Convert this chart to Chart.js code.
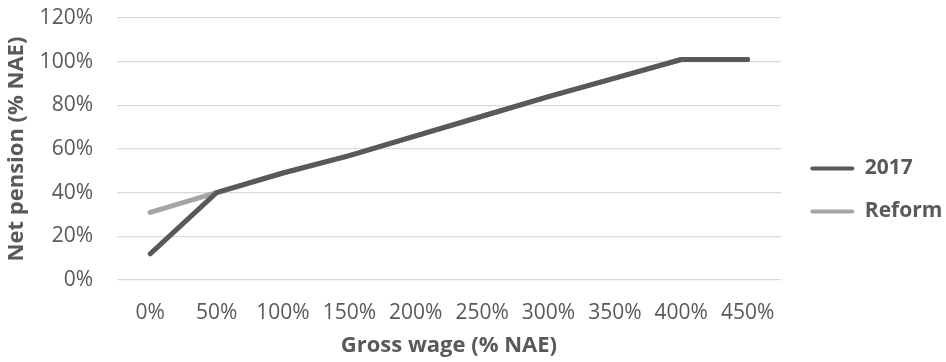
<!DOCTYPE html>
<html>
<head>
<meta charset="utf-8">
<script src="https://cdn.jsdelivr.net/npm/chart.js"></script>
<style>
  html, body { margin: 0; padding: 0; background: #ffffff; }
  #wrap { width: 946px; height: 362px; }
</style>
</head>
<body>
<div id="wrap"><canvas id="pensionChart" width="946" height="362"></canvas></div>
<script>
// Gross wage levels (% of national average earnings)
const wageLabels = ['0%', '50%', '100%', '150%', '200%', '250%', '300%', '350%', '400%', '450%'];
// Net pension (% NAE) under the 2017 rules and after the reform
const pension2017 = [12, 40, 49, 57, 66, 75, 84, 92.5, 101, 101];
const pensionReform = [31, 40, 49, 57, 66, 75, 84, 92.5, 101, 101];
// Y axis range
const yMin = 0;
const yMax = 120;
const yStep = 20;

const textColor = '#595959';
const fontFamily = "'Open Sans', 'DejaVu Sans', sans-serif";

const ctx = document.getElementById('pensionChart').getContext('2d');
const pensionChart = new Chart(ctx, {
  type: 'line',
  data: {
    labels: wageLabels,
    datasets: [{
      label: '2017',
      data: pension2017,
      borderColor: '#595959',
      backgroundColor: '#595959',
      borderWidth: 5,
      borderCapStyle: 'round',
      borderJoinStyle: 'round',
      pointRadius: 0,
      tension: 0
    }, {
      label: 'Reform',
      data: pensionReform,
      borderColor: '#a5a5a5',
      backgroundColor: '#a5a5a5',
      borderWidth: 5,
      borderCapStyle: 'round',
      borderJoinStyle: 'round',
      pointRadius: 0,
      tension: 0
    }]
  },
  options: {
    responsive: false,
    animation: false,
    layout: { padding: { top: 18, right: 0, bottom: 0, left: 0 } },
    plugins: {
      tooltip: { enabled: false },
      legend: {
        position: 'right',
        labels: {
          color: textColor,
          font: { family: fontFamily, size: 21, weight: 'bold' },
          boxWidth: 44,
          boxHeight: 4,
          padding: 22,
          useBorderRadius: true,
          borderRadius: 2,
          generateLabels: chart => Chart.defaults.plugins.legend.labels.generateLabels(chart).map(item => {
            item.lineWidth = 0;
            item.fillStyle = item.strokeStyle;
            return item;
          })
        }
      }
    },
    scales: {
      x: {
        offset: true,
        grid: { display: false },
        border: { display: false },
        ticks: {
          color: textColor,
          font: { family: fontFamily, size: 21 },
          padding: 12,
          maxRotation: 0
        },
        title: {
          display: true,
          text: 'Gross wage (% NAE)',
          color: textColor,
          font: { family: fontFamily, size: 22, weight: 'bold' },
          padding: { top: 0, bottom: 3 }
        },
        afterFit: scale => { scale.height = 82; }
      },
      y: {
        min: yMin,
        max: yMax,
        grid: { color: '#d9d9d9', lineWidth: 1.3, drawTicks: false },
        border: { display: false },
        ticks: {
          stepSize: yStep,
          color: textColor,
          font: { family: fontFamily, size: 21 },
          padding: 24,
          callback: value => value + '%'
        },
        title: {
          display: true,
          text: 'Net pension (% NAE)',
          color: textColor,
          font: { family: fontFamily, size: 22, weight: 'bold' },
          padding: { top: 4, bottom: 0 }
        },
        afterFit: scale => {
          scale.width = 117;
          scale.paddingTop = 0;
          scale.paddingBottom = 0;
        }
      },
      // empty spacer between the plot and the legend
      spacer: {
        position: 'right',
        grid: { display: false },
        border: { display: false },
        ticks: { display: false },
        afterFit: scale => { scale.width = 7.5; }
      }
    }
  }
});
</script>
</body>
</html>
